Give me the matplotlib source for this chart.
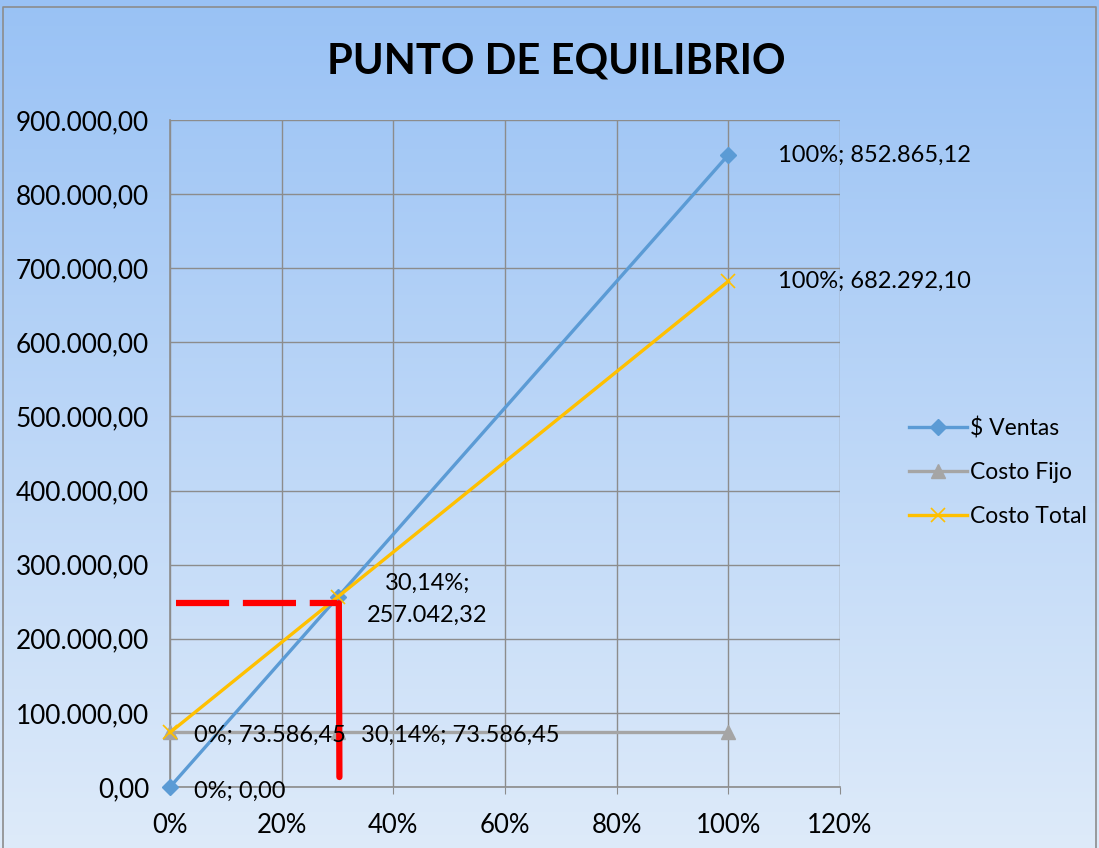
import numpy as np
import matplotlib.pyplot as plt
from matplotlib.ticker import FuncFormatter

plt.rcParams['font.family'] = ['Lato', 'DejaVu Sans']

# datos
porcentajes = [0.0, 0.3014, 1.0]
ventas = [0.0, 257042.32, 852865.12]
costo_fijo = [73586.45, 73586.45, 73586.45]
costo_total = [73586.45, 257042.32, 682292.10]
nombres = ['$ Ventas', 'Costo Fijo', 'Costo Total']

# lineas rojas del punto de equilibrio
eq_x = 0.3014
eq_y = 248000


def es_num(v):
    s = f'{v:,.2f}'
    return s.replace(',', 'X').replace('.', ',').replace('X', '.')


def es_pct(p):
    s = f'{p * 100:.2f}'.rstrip('0').rstrip('.')
    return s.replace('.', ',') + '%'


fig = plt.figure(figsize=(10.99, 8.48), dpi=100)

# fondo degradado
bg = fig.add_axes([0, 0, 1, 1], zorder=-10)
grad = np.linspace(0, 1, 256).reshape(-1, 1)
top = np.array([0.60, 0.76, 0.96])
bot = np.array([0.87, 0.92, 0.98])
img = top + (bot - top) * grad[:, :, None]
bg.imshow(img, aspect='auto', extent=[0, 1, 0, 1])
bg.set_xlim(0, 1)
bg.set_ylim(0, 1)
bg.axis('off')
bg.plot([0.003, 0.003, 0.997, 0.997], [0, 0.992, 0.992, 0], color='#8c8c8c', lw=1.2)

ax = fig.add_axes([0.1547, 0.0719, 0.6096, 0.7866])
ax.set_facecolor('none')

ax.plot(porcentajes, ventas, color='#5B9BD5', lw=2.4, marker='D', ms=8.5, label=nombres[0], zorder=3, clip_on=False)
ax.plot(porcentajes, costo_fijo, color='#A5A5A5', lw=2.4, marker='^', ms=9.5, label=nombres[1], zorder=3, clip_on=False)
ax.plot(porcentajes, costo_total, color='#FFC000', lw=2.4, marker='x', ms=10, mew=1.2, label=nombres[2], zorder=3,
        clip_on=False)

ax.plot([0.011, eq_x - 0.002], [eq_y, eq_y], color='#FF0000', lw=4.5, ls=(0, (8.5, 2.2)), zorder=4)
ax.plot([eq_x + 0.001, eq_x + 0.002], [eq_y, 13500], color='#FF0000', lw=4.5, solid_capstyle='round', zorder=4)

ax.set_xlim(0, 1.2)
ax.set_ylim(0, 900000)
ax.set_xticks(np.arange(0, 1.21, 0.2))
ax.set_yticks(np.arange(0, 900001, 100000))
ax.xaxis.set_major_formatter(FuncFormatter(lambda v, p: f'{v * 100:.0f}%'))
ax.yaxis.set_major_formatter(FuncFormatter(lambda v, p: es_num(v)))
ax.grid(True, color='#8c8c8c', lw=1)
ax.set_axisbelow(True)
for s in ['top', 'right']:
    ax.spines[s].set_visible(False)
for s in ['left', 'bottom']:
    ax.spines[s].set_color('#8c8c8c')
    ax.spines[s].set_linewidth(1.2)
ax.tick_params(axis='both', colors='#8c8c8c', labelcolor='black', length=5)
ax.tick_params(axis='x', pad=14, labelsize=18.5)
ax.tick_params(axis='y', length=0, pad=15, labelsize=18.8)

# etiquetas de datos
lab = dict(fontsize=17, color='black', zorder=5)
ax.annotate(f'{es_pct(porcentajes[2])}; {es_num(ventas[2])}', (porcentajes[2], ventas[2]),
            xytext=(36, 0), textcoords='offset points', va='center', **lab)
ax.annotate(f'{es_pct(porcentajes[2])}; {es_num(costo_total[2])}', (porcentajes[2], costo_total[2]),
            xytext=(36, 0), textcoords='offset points', va='center', **lab)
ax.annotate(f'{es_pct(porcentajes[1])};\n{es_num(ventas[1])}', (porcentajes[1], ventas[1]),
            xytext=(64, -2), textcoords='offset points', va='center', ha='center',
            linespacing=1.6, **lab)
ax.annotate(f'{es_pct(porcentajes[0])}; {es_num(costo_fijo[0])}', (porcentajes[0], costo_fijo[0]),
            xytext=(17, -2), textcoords='offset points', va='center', **lab)
ax.annotate(f'{es_pct(porcentajes[1])}; {es_num(costo_fijo[1])}', (porcentajes[1], costo_fijo[1]),
            xytext=(16, -2), textcoords='offset points', va='center', **lab)
ax.annotate(f'{es_pct(porcentajes[0])}; {es_num(ventas[0])}', (porcentajes[0], ventas[0]),
            xytext=(17, -3), textcoords='offset points', va='center', **lab)

fig.text(0.506, 0.928, 'PUNTO DE EQUILIBRIO', ha='center', va='center', fontsize=30, fontweight='bold')

ax.legend(loc='center left', bbox_to_anchor=(1.09, 0.472), frameon=False, fontsize=16.5,
          handlelength=2.5, labelspacing=1.0, handletextpad=0.15, borderaxespad=0)

fig.savefig('out.png', dpi=100)
